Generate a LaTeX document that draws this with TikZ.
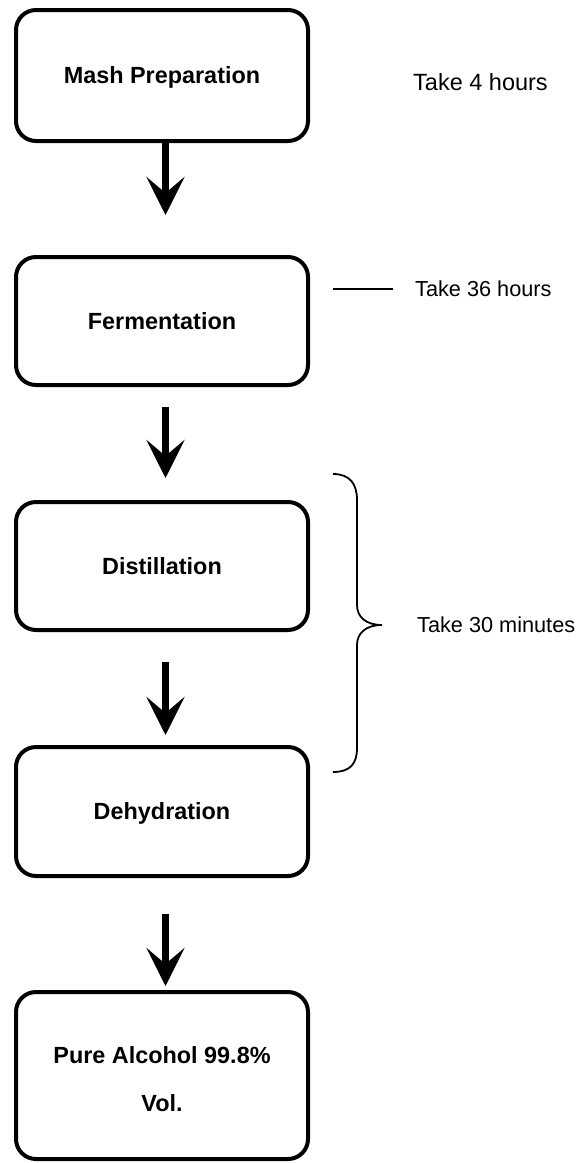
\documentclass[tikz,border=0pt]{standalone}
\usepackage{fontspec}
\setmainfont{Liberation Sans}
\usetikzlibrary{arrows.meta}
\tikzset{
  boxtext/.style={inner sep=0pt, align=center, text depth=0pt, font=\fontsize{23.4pt}{48pt}\selectfont\bfseries},
  stepbox/.style={boxtext, draw=black, line width=4pt, rounded corners=20pt, minimum width=292pt},
  arr/.style={line width=7pt, -{Stealth[length=38pt,width=38pt,inset=16pt]}},
  side/.style={anchor=west, inner sep=0pt, font=\fontsize{21.7pt}{26pt}\selectfont},
  thin/.style={line width=1.8pt}
}
\begin{document}
\begin{tikzpicture}[x=1pt,y=-1pt]
\useasboundingbox[fill=white] (0,0) rectangle (578,1163);
\node[stepbox, minimum height=131pt] (b1) at (162,75.5) {Mash Preparation};
\node[stepbox, minimum height=128pt] (b2) at (162,321) {Fermentation};
\node[stepbox, minimum height=128pt] (b3) at (162,566) {Distillation};
\node[stepbox, minimum height=129pt] (b4) at (162,811.5) {Dehydration};
\node[stepbox, minimum height=167pt] (b5) at (162,1075.5) {};
\node[boxtext] (b5t) at ([yshift=-4pt]b5.center) {Pure Alcohol 99.8\%\\Vol.};

\draw[arr] ([xshift=3.5pt]b1.south) -- ([xshift=3.5pt,yshift=40pt]b2.north);
\draw[arr] ([xshift=3.5pt,yshift=-20pt]b2.south) -- ([xshift=3.5pt,yshift=22pt]b3.north);
\draw[arr] ([xshift=3.5pt,yshift=-30pt]b3.south) -- ([xshift=3.5pt,yshift=10pt]b4.north);
\draw[arr] ([xshift=3.5pt,yshift=-36pt]b4.south) -- ([xshift=3.5pt,yshift=4pt]b5.north);

\node[side, font=\fontsize{23.5pt}{28pt}\selectfont] (t1) at (413,82) {Take 4 hours};
\node[side] (t2) at (415,289) {Take 36 hours};
\node[side] (t3) at (417,625) {Take 30 minutes};

\coordinate (l2) at (333,289);
\draw[thin] (l2) -- ([xshift=-22pt]t2.west);

\draw[thin] (333,474) .. controls (350,474) and (357,484) .. (357,500) -- (357,605)
  .. controls (357,617) and (366,625) .. (382,625)
  .. controls (366,625) and (357,633) .. (357,645) -- (357,748)
  .. controls (357,764) and (350,772) .. (333,772);
\end{tikzpicture}
\end{document}
